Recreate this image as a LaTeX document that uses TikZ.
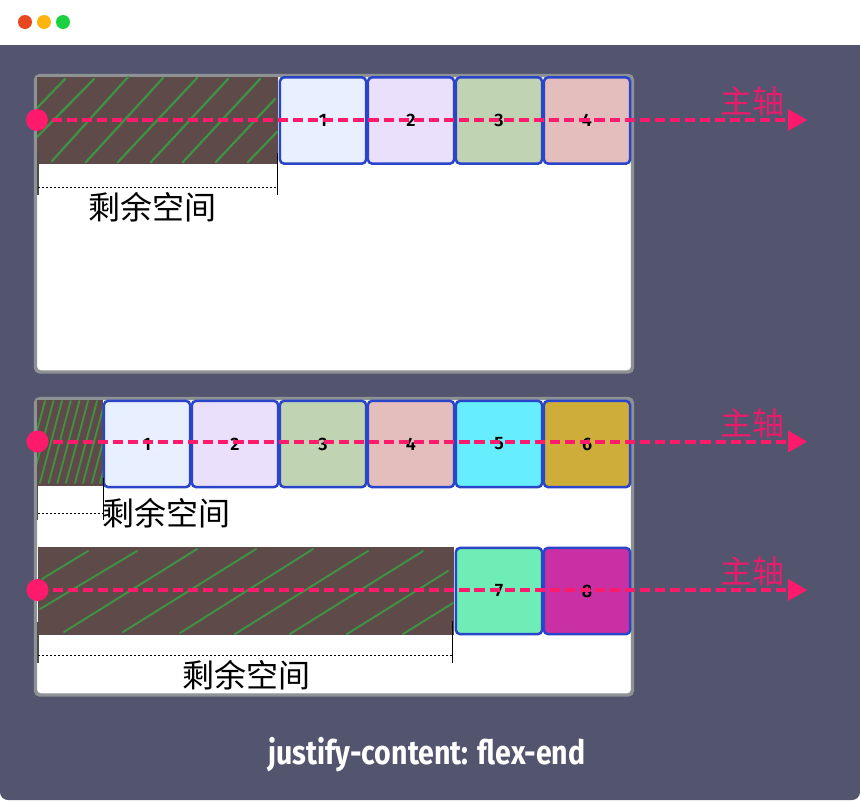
\documentclass[tikz,border=0pt]{standalone}
\usepackage{fontspec}
\usepackage{graphicx}
\newfontfamily\cjkf{Noto Sans CJK SC}
\newfontfamily\digitf{Fira Sans}[BoldFont={Fira Sans SemiBold}]
\newfontfamily\titlef{Fira Sans}
\definecolor{winbg}{HTML}{53556F}
\definecolor{panelline}{HTML}{8E9294}
\definecolor{blockline}{HTML}{2B45C8}
\definecolor{spacefill}{HTML}{5E4A49}
\definecolor{hatchline}{HTML}{3F9144}
\definecolor{axispink}{HTML}{FF1A6B}
\definecolor{axislabel}{HTML}{E81C6C}
\definecolor{cA}{HTML}{E8EFFE}
\definecolor{cB}{HTML}{EAE0FC}
\definecolor{cC}{HTML}{C0D4B4}
\definecolor{cD}{HTML}{E4BDBD}
\definecolor{cE}{HTML}{66EEFF}
\definecolor{cF}{HTML}{CFAD3B}
\definecolor{cG}{HTML}{6EEDB6}
\definecolor{cH}{HTML}{C930A4}
\tikzset{
  panel/.style={fill=white,draw=panelline,line width=2.6pt,rounded corners=3.5pt},
  spacerect/.style={fill=spacefill},
  hatch/.style={draw=hatchline,line width=1.7pt,line cap=round},
  block/.style={draw=blockline,line width=1.9pt,rounded corners=3pt,minimum width=64.6pt,minimum height=64.6pt,inner sep=0pt,outer sep=0pt,font=\digitf\bfseries\fontsize{13.5pt}{13.5pt}\selectfont,text=black},
  axisdot/.style={circle,fill=axispink,minimum size=16.5pt,inner sep=0pt,outer sep=0pt},
  axisline/.style={draw=axispink,line width=3pt,dash pattern=on 7.6pt off 3.7pt},
  axistip/.style={fill=axispink},
  axistext/.style={text=axislabel,font=\cjkf\fontsize{24pt}{24pt}\selectfont,inner sep=0pt},
  spacetext/.style={text=black,font=\cjkf\fontsize{24pt}{24pt}\selectfont,inner sep=0pt},
  tickR/.style={draw=black,line width=0.75pt},
  tickL/.style={draw=black!70,line width=1.2pt},
  measure/.style={draw=black,line width=0.75pt,dash pattern=on 1.5pt off 1.5pt},
  lamp/.style={circle,minimum size=10.5pt,inner sep=0pt}
}
\begin{document}
\begin{tikzpicture}[x=0.75pt,y=-0.75pt]
\useasboundingbox (0,0) rectangle (860,800);
\fill[white] (0,0) rectangle (860,800);
% window
\fill[winbg,rounded corners=6pt] (0,20) rectangle (860,800);
\fill[winbg] (0,30) rectangle (860,60);
\fill[white] (0,0) rectangle (860,45);
\node[lamp,fill={rgb,255:red,233;green,71;blue,31}] (lampA) at (25,22) {};
\node[lamp,fill={rgb,255:red,253;green,180;blue,15}] (lampB) at (44,22) {};
\node[lamp,fill={rgb,255:red,28;green,209;blue,63}] (lampC) at (63,22) {};
% panels
\draw[panel] (35.5,75.5) rectangle (632.5,372);
\draw[panel] (35.5,398.5) rectangle (632.5,695);
% free space, panel 1
\fill[spacerect] (37,76.5) rectangle (277.5,163.5);
\begin{scope}
\clip (37,76.5) rectangle (277.5,163.5);
\foreach \a/\b/\c/\d in {37/108/65/79,37/137/94/79,52/161/128/77,86/162/163/78,118/162/197/78,151/162/228/79,183/162/260/79,216/162/275/99,248/162/277/132}
  \draw[hatch] (\a,\b) -- (\c,\d);
\end{scope}
% free space, panel 2 row 1
\fill[spacerect] (37,400) rectangle (102.5,486);
\begin{scope}
\clip (37,400) rectangle (102.5,486);
\foreach \t in {45,53.5,62,70.7,79.4,88,97,105,114,122}
  \draw[hatch,line width=1.4pt] (\t,401) -- ({\t-22},483);
\end{scope}
% free space, panel 2 row 2
\fill[spacerect] (38,547) rectangle (454,635);
\begin{scope}
\clip (38,547) rectangle (454,635);
\foreach \a/\b/\c/\d in {42/579/88/551,40/609/137/551,64/632/197/549,123/632/256/549,180/633/313/549,235/634/368/551,290/634/423/551,347/634/448/571,403/634/453/603}
  \draw[hatch,line width=1.5pt] (\a,\b) -- (\c,\d);
\end{scope}
% blocks
\node[block,fill=cA] (a1) at (323,120.5) {1};
\node[block,fill=cB] (a2) at (411,120.5) {2};
\node[block,fill=cC] (a3) at (499,120.5) {3};
\node[block,fill=cD] (a4) at (587,120.5) {4};
\node[block,fill=cA] (b1) at (147,444) {1};
\node[block,fill=cB] (b2) at (235,444) {2};
\node[block,fill=cC] (b3) at (323,444) {3};
\node[block,fill=cD] (b4) at (411,444) {4};
\node[block,fill=cE] (b5) at (499,444) {5};
\node[block,fill=cF] (b6) at (587,444) {6};
\node[block,fill=cG] (c1) at (499,591) {7};
\node[block,fill=cH] (c2) at (587,591) {8};
% measures
\coordinate (m1a) at (38,153); \coordinate (m1b) at (38,195);
\coordinate (m1c) at (277.5,153); \coordinate (m1d) at (277.5,195);
\coordinate (m1e) at (38,187); \coordinate (m1f) at (277.5,187);
\draw[tickL] (m1a) -- (m1b);
\draw[tickR] (m1c) -- (m1d);
\draw[measure] (m1e) -- (m1f);
\node[spacetext] (s1) at (152,207) {剩余空间};
\coordinate (m2a) at (37.5,478); \coordinate (m2b) at (37.5,520);
\coordinate (m2c) at (103,478); \coordinate (m2d) at (103,520);
\coordinate (m2e) at (38,513); \coordinate (m2f) at (103,513);
\draw[tickL] (m2a) -- (m2b);
\draw[tickR] (m2c) -- (m2d);
\draw[measure] (m2e) -- (m2f);
\node[spacetext] (s2) at (166,513) {剩余空间};
\coordinate (m3a) at (38,622); \coordinate (m3b) at (38,663);
\coordinate (m3c) at (452.5,621); \coordinate (m3d) at (452.5,663);
\coordinate (m3e) at (38,655.5); \coordinate (m3f) at (452.5,655.5);
\draw[tickL] (m3a) -- (m3b);
\draw[tickR] (m3c) -- (m3d);
\draw[measure] (m3e) -- (m3f);
\node[spacetext] (s3) at (246,675) {剩余空间};
% axes
\node[axisdot] (o1) at (37,120) {};
\coordinate (e1) at (788,120);
\draw[axisline] (o1.center) -- (e1);
\fill[axistip] (e1) -- ++(0,-11) -- ++(19,11) -- ++(-19,11) -- cycle;
\node[axistext] (l1) at (752.5,101) {主轴};
\node[axisdot] (o2) at (37.5,441.5) {};
\coordinate (e2) at (788,441.5);
\draw[axisline] (o2.center) -- (e2);
\fill[axistip] (e2) -- ++(0,-11) -- ++(19,11) -- ++(-19,11) -- cycle;
\node[axistext] (l2) at (752.5,423) {主轴};
\node[axisdot] (o3) at (37.5,590) {};
\coordinate (e3) at (788,590);
\draw[axisline] (o3.center) -- (e3);
\fill[axistip] (e3) -- ++(0,-11) -- ++(19,11) -- ++(-19,11) -- cycle;
\node[axistext] (l3) at (752.5,571) {主轴};
% caption
\node[text=white,inner sep=0pt] (cap) at (427,755) {\resizebox*{237.75pt}{26pt}{\titlef\bfseries justify-content: flex-end}};
\end{tikzpicture}
\end{document}
